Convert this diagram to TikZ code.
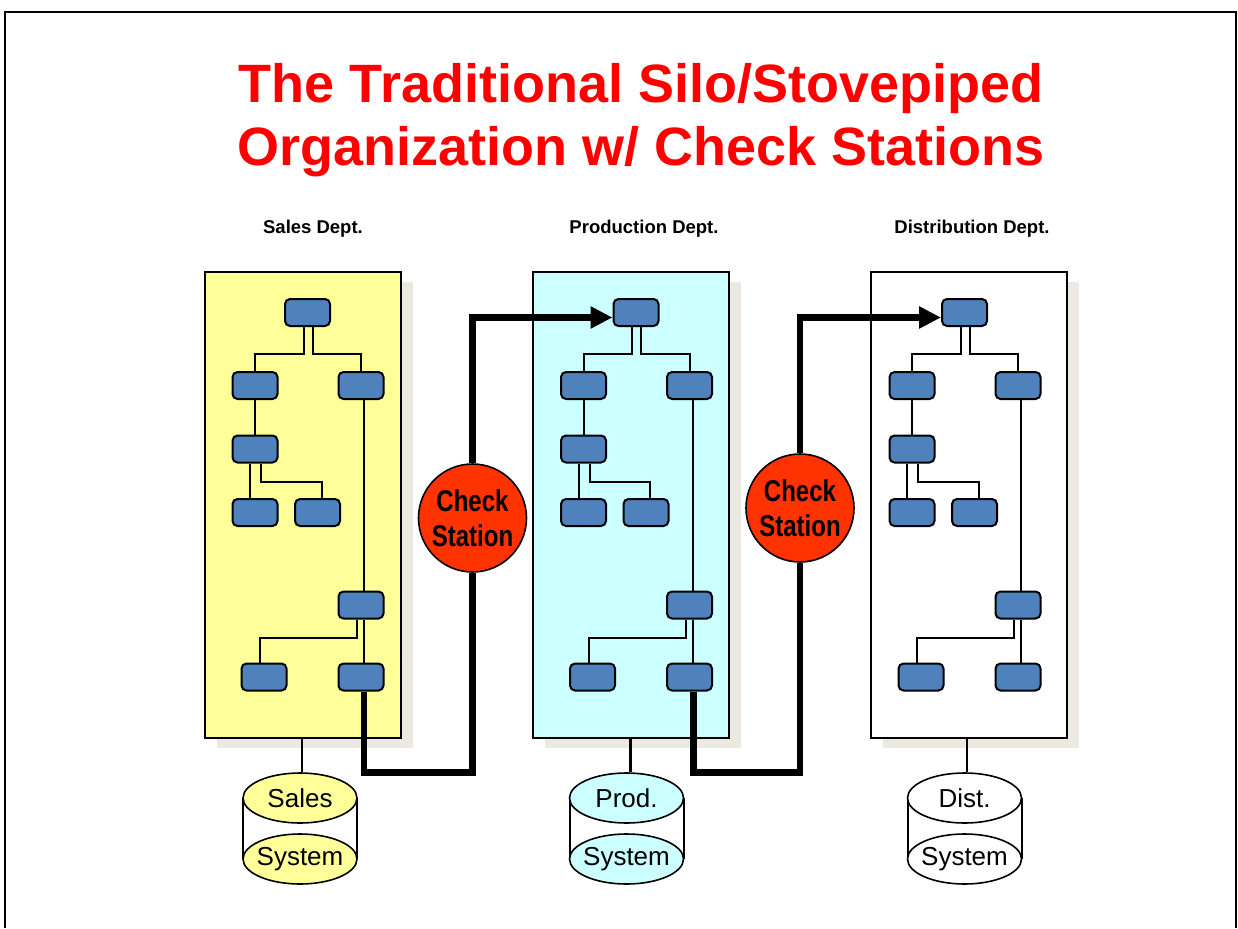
\documentclass[tikz,border=0pt]{standalone}
\usepackage{fontspec}
\setmainfont{Liberation Sans}
\newfontfamily\narrowfont[FakeStretch=0.8]{Liberation Sans}
\usetikzlibrary{shapes.geometric,arrows.meta,shadows}
\definecolor{titlered}{HTML}{FF0000}
\definecolor{orgblue}{HTML}{4F81BD}
\definecolor{salesy}{HTML}{FFFF99}
\definecolor{prodc}{HTML}{CCFFFF}
\definecolor{shadowc}{HTML}{ECEAE0}
\definecolor{checkred}{HTML}{FF3300}

\tikzset{
  orgbox/.style={draw, line width=2pt, fill=orgblue, rounded corners=5pt,
    minimum width=45pt, minimum height=27pt, inner sep=0pt},
  link/.style={draw, line width=2pt},
  dblink/.style={draw, line width=2.6pt},
  deptbox/.style={draw, line width=2pt, minimum width=196pt, minimum height=466pt,
    inner sep=0pt, general shadow={fill=shadowc, shadow xshift=12pt, shadow yshift=-10pt}},
  deptlabel/.style={anchor=base, inner sep=0pt, font=\bfseries\fontsize{18.5}{20}\selectfont},
  titletext/.style={anchor=base, inner sep=0pt, text=titlered, font=\bfseries\fontsize{54}{60}\selectfont},
  cyl/.style={ellipse, draw, line width=1.6pt, minimum width=114pt, minimum height=50pt,
    inner sep=0pt},
  cyltext/.style={font=\fontsize{26}{28}\selectfont, inner sep=0pt},
  check/.style={circle, draw, line width=1.6pt, fill=checkred, minimum size=108pt, inner sep=0pt,
    align=center, font={\narrowfont\bfseries\fontsize{30}{35}\selectfont}},
  flow/.style={draw, line width=6.5pt, line join=miter},
  flowarrow/.style={flow, -{Triangle[length=22pt,width=21pt]}}
}

\newcommand\orgtree{%
  \node[orgbox] (top) at (307.5,312.5) {};
  \node[orgbox] (l2a) at (255,385.5) {};
  \node[orgbox] (l2b) at (361,385.5) {};
  \node[orgbox] (l3) at (255,449) {};
  \node[orgbox] (l4a) at (255,512.5) {};
  \node[orgbox] (l4b) at (317.5,512.5) {};
  \node[orgbox] (r3) at (361,605) {};
  \node[orgbox] (r4a) at (264,677) {};
  \node[orgbox] (r4b) at (361,677) {};
  \draw[link] ([xshift=-4pt]top.south) -- ++(0,27) -| (l2a.north);
  \draw[link] ([xshift=5pt]top.south) -- ++(0,27) -| (l2b.north);
  \draw[link] (l2a.south) -- (l3.north);
  \draw[link] ([xshift=-5pt]l3.south) -- ([xshift=-5pt]l4a.north);
  \draw[link] ([xshift=6pt]l3.south) -- ++(0,18) -| ([xshift=4pt]l4b.north);
  \draw[link] ([xshift=3pt]l2b.south) -- ([xshift=3pt]r3.north);
  \draw[link] ([xshift=-4pt]r3.south) -- ++(0,18) -| ([xshift=-4pt]r4a.north);
  \draw[link] ([xshift=3pt]r3.south) -- ([xshift=3pt]r4b.north);
}

\begin{document}
\begin{tikzpicture}[x=1pt, y=-1pt]
\useasboundingbox (0,0) rectangle (1238,928);
\fill[white] (0,0) rectangle (1238,928);
% outer frame
\draw[line width=2.5pt] (5,928) -- (5,12) -- (1236,12) -- (1236,928);

% title
\node[titletext] (t1) at (641,103) {The Traditional Silo/Stovepiped};
\node[titletext] (t2) at (641,166) {Organization w/ Check Stations};

% department labels
\node[deptlabel] (slabel) at (313,233) {Sales Dept.};
\node[deptlabel] (plabel) at (644,233) {Production Dept.};
\node[deptlabel] (dlabel) at (972,233) {Distribution Dept.};

% department boxes
\node[deptbox, fill=salesy] (sbox) at (303,505) {};
\node[deptbox, fill=prodc] (pbox) at (630.5,505) {};
\node[deptbox, fill=white] (dbox) at (968.5,505) {};

% org trees
\begin{scope}[name prefix=s-]
  \orgtree
\end{scope}
\begin{scope}[shift={(328.5,0)}, name prefix=p-]
  \orgtree
\end{scope}
\begin{scope}[shift={(657,0)}, name prefix=d-]
  \orgtree
\end{scope}

% databases
\draw[link] (243,798) -- (243,859) (357,798) -- (357,859);
\node[cyl, fill=salesy] (sdbtop) at (300,798) {};
\node[cyl, fill=salesy] (sdbbot) at (300,859) {};
\node[cyltext] (sdbt1) at (sdbtop.center) {Sales};
\node[cyltext] (sdbt2) at (sdbbot.center) {System};
\draw[dblink] ([xshift=-1pt]sbox.south) -- ([xshift=-1pt]sbox.south |- sdbtop.north);

\draw[link] (569.5,798) -- (569.5,859) (683.5,798) -- (683.5,859);
\node[cyl, fill=prodc] (pdbtop) at (626.5,798) {};
\node[cyl, fill=prodc] (pdbbot) at (626.5,859) {};
\node[cyltext] (pdbt1) at (pdbtop.center) {Prod.};
\node[cyltext] (pdbt2) at (pdbbot.center) {System};
\draw[dblink] (pbox.south) -- (pbox.south |- pdbtop.north);

\draw[link] (907.5,798) -- (907.5,859) (1021.5,798) -- (1021.5,859);
\node[cyl, fill=white] (ddbtop) at (964.5,798) {};
\node[cyl, fill=white] (ddbbot) at (964.5,859) {};
\node[cyltext] (ddbt1) at (ddbtop.center) {Dist.};
\node[cyltext] (ddbt2) at (ddbbot.center) {System};
\draw[dblink] ([xshift=-1.5pt]dbox.south) -- ([xshift=-1.5pt]dbox.south |- ddbtop.north);

% check stations
\node[check] (cs1) at (472.5,518) {Check\\Station};
\node[check] (cs2) at (800,508) {Check\\Station};

% flows
\draw[flow] ([xshift=3pt]s-r4b.south) -- ++(0,81) -| (cs1.south);
\draw[flowarrow] (cs1.north) |- ([yshift=-5pt]p-top.west);
\draw[flow] ([xshift=4pt]p-r4b.south) -- ++(0,81) -| (cs2.south);
\draw[flowarrow] (cs2.north) |- ([yshift=-5pt]d-top.west);
\end{tikzpicture}
\end{document}
